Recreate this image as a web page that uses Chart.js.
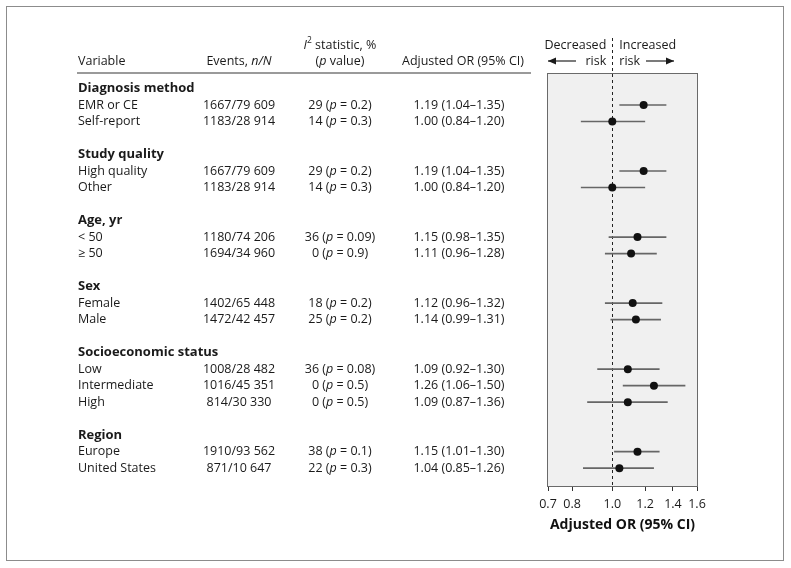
<!DOCTYPE html>
<html><head><meta charset="utf-8">
<script src="https://cdn.jsdelivr.net/npm/chart.js@4/dist/chart.umd.min.js"></script>
<style>html,body{margin:0;padding:0;background:#fff;overflow:hidden}</style>
</head><body>
<canvas id="c" width="791" height="568"></canvas>
<script>
// ---- data ----
const groups = ['Diagnosis method','Study quality','Age, yr','Sex','Socioeconomic status','Region'];
const groupOf = [0,0,1,1,2,2,3,3,4,4,4,5,5];
const labels = ['EMR or CE','Self-report','High quality','Other','< 50','\u2265 50','Female','Male','Low','Intermediate','High','Europe','United States'];
const events = ['1667/79 609','1183/28 914','1667/79 609','1183/28 914','1180/74 206','1694/34 960','1402/65 448','1472/42 457','1008/28 482','1016/45 351','814/30 330','1910/93 562','871/10 647'];
const i2 = [29,14,29,14,36,0,18,25,36,0,0,38,22];
const pValues = ['0.2','0.3','0.2','0.3','0.09','0.9','0.2','0.2','0.08','0.5','0.5','0.1','0.3'];
const orValues = [1.19,1.00,1.19,1.00,1.15,1.11,1.12,1.14,1.09,1.26,1.09,1.15,1.04];
const ciLow = [1.04,0.84,1.04,0.84,0.98,0.96,0.96,0.99,0.92,1.06,0.87,1.01,0.85];
const ciHigh = [1.35,1.20,1.35,1.20,1.35,1.28,1.32,1.31,1.30,1.50,1.36,1.30,1.26];
const xTicks = [0.7,0.8,1.0,1.2,1.4,1.6];

// ---- row layout ----
const rowOf = [], headerRows = [];
(function(){ let r = 0, prev = -1;
  groupOf.forEach((g,i)=>{ if(g!==prev){ if(prev!==-1) r++; headerRows.push(r); r++; prev=g; } rowOf.push(r); r++; });
})();

const FF = '"Open Sans", "Noto Sans", sans-serif';
const fN = '12.5px ' + FF, fI = 'italic 12.5px ' + FF, fB = 'bold 13px ' + FF;

function drawRich(ctx, parts, x, y, align){
  let w = 0;
  parts.forEach(p=>{ ctx.font = p.f; p.w = ctx.measureText(p.t).width; w += p.w; });
  let cx = align==='center' ? x - w/2 : (align==='right' ? x - w : x);
  ctx.textAlign = 'left';
  parts.forEach(p=>{ ctx.font = p.f; ctx.fillText(p.t, cx, y + (p.dy||0)); cx += p.w; });
}

const tablePlugin = {
  id:'table',
  beforeDraw(chart){
    const ctx = chart.ctx, a = chart.chartArea;
    ctx.save();
    ctx.fillStyle = '#fff'; ctx.fillRect(0,0,chart.width,chart.height);
    ctx.strokeStyle = '#8c8c8c'; ctx.lineWidth = 1; ctx.strokeRect(6.5,6.5,777,554);
    ctx.fillStyle = '#f0f0f0'; ctx.fillRect(a.left, a.top, a.right-a.left, a.bottom-a.top);
    ctx.restore();
  },
  beforeDatasetsDraw(chart){
    const ctx = chart.ctx, a = chart.chartArea, xs = chart.scales.x;
    ctx.save();
    ctx.strokeStyle = '#6a6a6a'; ctx.lineWidth = 1;
    ctx.strokeRect(Math.round(a.left)-0.5, Math.round(a.top)-0.5, Math.round(a.right-a.left)+1, Math.round(a.bottom-a.top)+1);
    const x1 = Math.round(xs.getPixelForValue(1)) + 0.5;
    ctx.strokeStyle = '#222'; ctx.setLineDash([3,3]);
    ctx.beginPath(); ctx.moveTo(x1, 38); ctx.lineTo(x1, a.bottom); ctx.stroke();
    ctx.restore();
  },
  afterDraw(chart){
    const ctx = chart.ctx, ys = chart.scales.y, xs = chart.scales.x;
    const xVar = 78, xEv = 239, xI2 = 340, xOR = 459;
    ctx.save();
    ctx.fillStyle = '#1a1a1a'; ctx.textBaseline = 'middle';
    // column headers
    drawRich(ctx, [{t:'Variable', f:fN}], xVar, 61, 'left');
    drawRich(ctx, [{t:'Events, ', f:fN},{t:'n/N', f:fI}], xEv, 61, 'center');
    drawRich(ctx, [{t:'I', f:fI},{t:'2', f:'8.5px '+FF, dy:-4},{t:' statistic, %', f:fN}], xI2, 45, 'center');
    drawRich(ctx, [{t:'(', f:fN},{t:'p', f:fI},{t:' value)', f:fN}], xI2, 61, 'center');
    drawRich(ctx, [{t:'Adjusted OR (95% CI)', f:fN}], 463, 61, 'center');
    ctx.strokeStyle = '#9a9a9a'; ctx.lineWidth = 2;
    ctx.beginPath(); ctx.moveTo(77, 73); ctx.lineTo(531, 73); ctx.stroke();
    // risk header
    const x1 = xs.getPixelForValue(1);
    drawRich(ctx, [{t:'Decreased', f:fN}], x1-6, 45, 'right');
    drawRich(ctx, [{t:'risk', f:fN}], x1-6, 61, 'right');
    drawRich(ctx, [{t:'Increased', f:fN}], x1+7, 45, 'left');
    drawRich(ctx, [{t:'risk', f:fN}], x1+7, 61, 'left');
    ctx.strokeStyle = '#222'; ctx.lineWidth = 1.2;
    const arrow = (xa, xb, y) => {
      ctx.beginPath(); ctx.moveTo(xa, y); ctx.lineTo(xb, y); ctx.stroke();
      const d = xb > xa ? 1 : -1;
      ctx.beginPath(); ctx.moveTo(xb, y); ctx.lineTo(xb - d*8, y-3.5); ctx.lineTo(xb - d*8, y+3.5); ctx.closePath(); ctx.fill();
    };
    arrow(576, 548, 61);
    arrow(646, 674, 61);
    // group headers
    groups.forEach((g,k)=>{ drawRich(ctx, [{t:g, f:fB}], xVar, ys.getPixelForValue(headerRows[k]), 'left'); });
    // rows
    labels.forEach((lab,i)=>{
      const y = ys.getPixelForValue(rowOf[i]);
      drawRich(ctx, [{t:lab, f:fN}], xVar, y, 'left');
      drawRich(ctx, [{t:events[i], f:fN}], xEv, y, 'center');
      drawRich(ctx, [{t:i2[i]+' (', f:fN},{t:'p', f:fI},{t:' = '+pValues[i]+')', f:fN}], xI2, y, 'center');
      drawRich(ctx, [{t:orValues[i].toFixed(2)+' ('+ciLow[i].toFixed(2)+'\u2013'+ciHigh[i].toFixed(2)+')', f:fN}], xOR, y, 'center');
    });
    ctx.restore();
  }
};

const ciDatasets = orValues.map((v,i)=>({
  data:[{x:ciLow[i], y:rowOf[i]},{x:ciHigh[i], y:rowOf[i]}],
  showLine:true, borderColor:'#666', borderWidth:1.6, pointRadius:0, order:1, clip:false
}));
const pointDataset = {
  data: orValues.map((v,i)=>({x:v, y:rowOf[i]})),
  pointRadius:4, pointBackgroundColor:'#111', pointBorderColor:'#111', pointBorderWidth:0, showLine:false, order:0
};

new Chart(document.getElementById('c'), {
  type:'scatter',
  data:{ datasets:[...ciDatasets, pointDataset] },
  options:{
    responsive:false, animation:false, devicePixelRatio:1,
    layout:{ padding:{ left:548, right:94, top:74, bottom:22 } },
    plugins:{ legend:{display:false}, tooltip:{enabled:false} },
    scales:{
      x:{ type:'logarithmic', min:0.7, max:1.6,
        afterBuildTicks: s => { s.ticks = xTicks.map(v=>({value:v})); },
        afterFit: s => { s.height = 60; },
        ticks:{ callback: v => Number(v).toFixed(1), font:{family:FF, size:12.5}, color:'#1a1a1a', padding:6, maxRotation:0, autoSkip:false },
        grid:{ drawOnChartArea:false, drawTicks:true, tickLength:5, color:'#333', tickColor:'#333' },
        border:{ display:false },
        title:{ display:true, text:'Adjusted OR (95% CI)', font:{family:FF, size:14, weight:'bold'}, color:'#111', padding:{top:0, bottom:13} }
      },
      y:{ type:'linear', min:-0.88, max:24.08, reverse:true, display:false }
    }
  },
  plugins:[tablePlugin]
});
</script>
</body></html>
